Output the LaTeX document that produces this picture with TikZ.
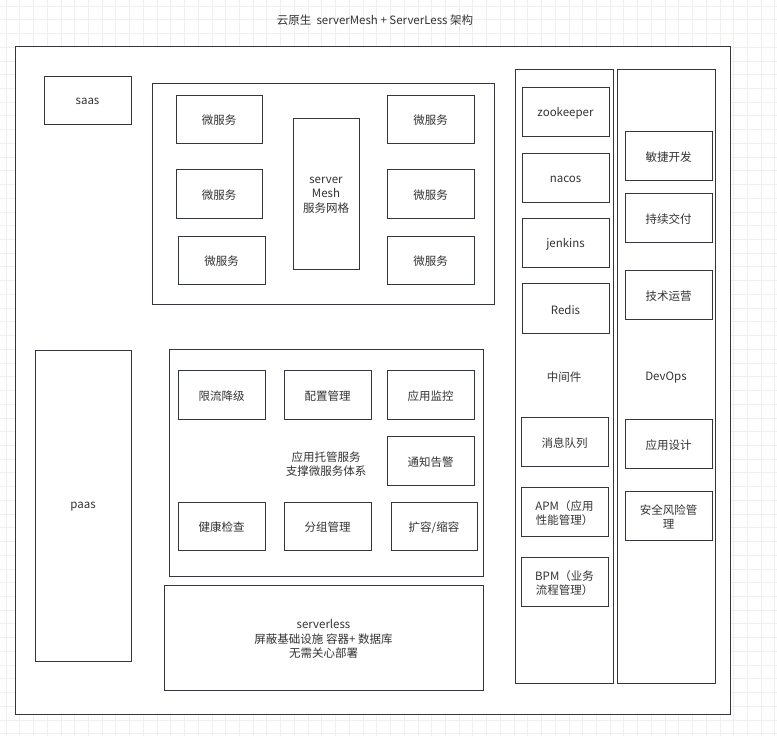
\documentclass[tikz,border=0pt]{standalone}
\usepackage{fontspec}
\setmainfont{Noto Sans CJK SC}
\definecolor{boxline}{HTML}{33363A}
\definecolor{txt}{HTML}{333333}
\definecolor{gridline}{HTML}{EFEFEF}
\begin{document}
\begin{tikzpicture}[x=1pt,y=-1pt,line width=1pt,draw=boxline,
    every node/.style={font=\fontsize{11.5}{14.5}\selectfont, text=txt, align=center, yshift=-1.5pt}]
    \useasboundingbox (0,0) rectangle (777,736);
    % background grid
    \foreach \k in {0,...,56} {
        \draw[gridline, line width=.8pt] ({6+13.73*\k},0) -- ({6+13.73*\k},736);
        \draw[gridline, line width=.8pt] (0,{6+13.73*\k}) -- (777,{6+13.73*\k});
    }
    \node (title) at (375,19) {云原生\ \ serverMesh + ServerLess 架构};
    \draw[fill=white] (15,46) rectangle (730,714);
    \draw (44,76) rectangle (131,124) node[midway] (saas) {saas};
    \draw (35,350) rectangle (131,661) node[midway] (paas) {paas};
    % service mesh
    \draw (152,83) rectangle (494,304);
    \draw (176,95) rectangle (262,143) node[midway] (msA) {微服务};
    \draw (176,169) rectangle (262,218) node[midway] (msB) {微服务};
    \draw (178,236) rectangle (265,284) node[midway] (msC) {微服务};
    \draw (293,118) rectangle (359,269) node[midway] (mesh) {server\\Mesh\\服务网格};
    \draw (387,95) rectangle (474,143) node[midway] (msD) {微服务};
    \draw (387,169) rectangle (474,218) node[midway] (msE) {微服务};
    \draw (387,236) rectangle (474,284) node[midway] (msF) {微服务};
    % hosting
    \draw (169,349) rectangle (483,576) node[midway] (hosting) {应用托管服务\\支撑微服务体系};
    \draw (178,370) rectangle (265,419) node[midway] (limit) {限流降级};
    \draw (284,370) rectangle (371,419) node[midway] (config) {配置管理};
    \draw (387,370) rectangle (474,419) node[midway] (monitor) {应用监控};
    \draw (387,436) rectangle (474,485) node[midway] (notify) {通知告警};
    \draw (178,502) rectangle (265,550) node[midway] (health) {健康检查};
    \draw (284,502) rectangle (371,550) node[midway] (group) {分组管理};
    \draw (391,502) rectangle (477,550) node[midway] (resize) {扩容/缩容};
    \draw (164,585) rectangle (483,690) node[midway] (serverless) {serverless\\屏蔽基础设施 容器+ 数据库\\无需关心部署};
    % middleware
    \draw (515,69) rectangle (613,683) node[midway] (midware) {中间件};
    \draw[fill=white] (522,87) rectangle (609,136) node[midway] (zk) {zookeeper};
    \draw[fill=white] (522,153) rectangle (609,202) node[midway] (nacos) {nacos};
    \draw[fill=white] (522,218) rectangle (609,267) node[midway] (jenkins) {jenkins};
    \draw[fill=white] (522,283) rectangle (609,333) node[midway] (redis) {Redis};
    \draw[fill=white] (521,417) rectangle (608,466) node[midway] (mq) {消息队列};
    \draw[fill=white] (521,487) rectangle (608,536) node[midway] (apm) {APM（应用\\性能管理）};
    \draw[fill=white] (521,557) rectangle (608,606) node[midway] (bpm) {BPM（业务\\流程管理）};
    % devops
    \draw (617,69) rectangle (715,683) node[midway] (devops) {DevOps};
    \draw[fill=white] (625,131) rectangle (712,180) node[midway] (agile) {敏捷开发};
    \draw[fill=white] (625,193) rectangle (712,242) node[midway] (cd) {持续交付};
    \draw[fill=white] (625,270) rectangle (712,319) node[midway] (ops) {技术运营};
    \draw[fill=white] (625,419) rectangle (712,468) node[midway] (design) {应用设计};
    \draw[fill=white] (625,491) rectangle (712,540) node[midway] (security) {安全风险管\\理};
\end{tikzpicture}
\end{document}
